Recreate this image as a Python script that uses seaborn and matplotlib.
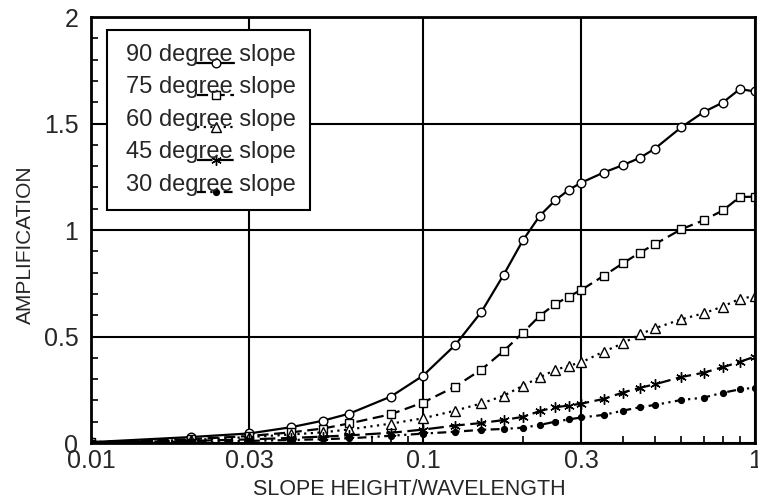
import numpy as np
import pandas as pd
import matplotlib
matplotlib.use("Agg")
import matplotlib.pyplot as plt
import seaborn as sns
from matplotlib.ticker import FixedLocator, NullFormatter, MultipleLocator

# Slope height / wavelength sample points
ratio = [0.01, 0.02, 0.03, 0.04, 0.05, 0.06, 0.08, 0.1, 0.125, 0.15, 0.175, 0.2,
         0.225, 0.25, 0.275, 0.3, 0.35, 0.4, 0.45, 0.5, 0.6, 0.7, 0.8, 0.9, 1.0]

# Amplification for each slope angle
amp_90 = [0.004, 0.028, 0.045, 0.074, 0.105, 0.138, 0.218, 0.316, 0.46, 0.616, 0.79, 0.952,
          1.068, 1.139, 1.189, 1.223, 1.27, 1.305, 1.339, 1.383, 1.483, 1.554, 1.599, 1.662, 1.651]
amp_75 = [0.004, 0.018, 0.033, 0.05, 0.068, 0.092, 0.135, 0.19, 0.265, 0.345, 0.432, 0.518,
          0.598, 0.652, 0.688, 0.719, 0.785, 0.844, 0.894, 0.934, 1.004, 1.046, 1.092, 1.155, 1.157]
amp_60 = [0.003, 0.014, 0.028, 0.04, 0.05, 0.064, 0.091, 0.116, 0.152, 0.186, 0.222, 0.269,
          0.309, 0.343, 0.363, 0.379, 0.429, 0.468, 0.511, 0.539, 0.581, 0.609, 0.641, 0.677, 0.69]
amp_45 = [0.003, 0.01, 0.017, 0.024, 0.03, 0.036, 0.048, 0.063, 0.082, 0.094, 0.108, 0.123,
          0.15, 0.168, 0.176, 0.185, 0.207, 0.237, 0.259, 0.276, 0.31, 0.33, 0.356, 0.381, 0.406]
amp_30 = [0.002, 0.006, 0.01, 0.014, 0.018, 0.022, 0.034, 0.044, 0.053, 0.062, 0.066, 0.072,
          0.085, 0.1, 0.111, 0.12, 0.132, 0.152, 0.168, 0.179, 0.202, 0.213, 0.236, 0.252, 0.26]

labels = ["90 degree slope", "75 degree slope", "60 degree slope",
          "45 degree slope", "30 degree slope"]

x_ticks = [0.01, 0.03, 0.1, 0.3, 1]
x_tick_labels = ["0.01", "0.03", "0.1", "0.3", "1"]
y_ticks = [0, 0.5, 1, 1.5, 2]
y_tick_labels = ["0", "0.5", "1", "1.5", "2"]

df = pd.DataFrame({"ratio": ratio, labels[0]: amp_90, labels[1]: amp_75,
                   labels[2]: amp_60, labels[3]: amp_45, labels[4]: amp_30})

sns.set_theme(style="white")
plt.rcParams["font.family"] = ["Liberation Sans", "DejaVu Sans"]

styles = {
    labels[0]: dict(linestyle="-", marker="o", markersize=6.2, markerfacecolor="white"),
    labels[1]: dict(linestyle=(0, (5, 2.5)), marker="s", markersize=5.8, markerfacecolor="white"),
    labels[2]: dict(linestyle=(0, (1, 2)), marker="^", markersize=6.8, markerfacecolor="white"),
    labels[3]: dict(linestyle=(0, (7, 2.5)), marker=(6, 2, 0), markersize=7.5),
    labels[4]: dict(linestyle=(0, (4, 2, 1, 2, 1, 2)), marker="o", markersize=4.2,
                    markerfacecolor="black"),
}

fig, ax = plt.subplots(figsize=(7.58, 5.04), dpi=100)
fig.subplots_adjust(left=0.120, right=0.996, bottom=0.121, top=0.966)

for name in labels:
    sns.lineplot(data=df, x="ratio", y=name, ax=ax, color="black", linewidth=1.6,
                 markeredgecolor="black", markeredgewidth=1.0, label=name, **styles[name])

ax.set_xscale("log")
ax.set_xlim(0.01, 1)
ax.set_ylim(0, 2)
ax.set_xticks(x_ticks)
ax.set_xticklabels(x_tick_labels)
ax.xaxis.set_minor_locator(FixedLocator([0.02, 0.04, 0.05, 0.06, 0.07, 0.08, 0.09,
                                         0.2, 0.4, 0.5, 0.6, 0.7, 0.8, 0.9]))
ax.xaxis.set_minor_formatter(NullFormatter())
ax.set_yticks(y_ticks)
ax.set_yticklabels(y_tick_labels)
ax.yaxis.set_minor_locator(MultipleLocator(0.1))

ax.grid(True, which="major", color="black", linewidth=1.5)
ax.tick_params(which="both", direction="in", color="black", labelsize=18,
               left=True, bottom=True, top=False, right=False)
ax.tick_params(axis="y", which="major", length=0, pad=9)
ax.tick_params(axis="x", which="major", length=0, pad=4)
ax.tick_params(which="minor", length=5, width=1.2)
for side in ax.spines.values():
    side.set_color("black")
    side.set_linewidth(2)

ax.set_xlabel("SLOPE HEIGHT/WAVELENGTH", fontsize=15.5)
ax.set_ylabel("AMPLIFICATION", fontsize=15)
ax.xaxis.set_label_coords(0.48, -0.085)
ax.yaxis.set_label_coords(-0.084, 0.465)

leg = ax.legend(loc="upper left", bbox_to_anchor=(0.024, 0.97), borderaxespad=0,
                fontsize=17, frameon=True, fancybox=False, edgecolor="black",
                framealpha=1, numpoints=1, handlelength=0.2, handletextpad=0.0,
                labelspacing=0.44, borderpad=0.6)
leg.get_frame().set_linewidth(1.5)
# Key samples sit underneath the middle of each label
for ln in leg.get_lines():
    y0 = np.asarray(ln.get_ydata())[0]
    ln.set_xdata([55, 68, 81])
    ln.set_ydata([y0 - 7] * 3)

fig.savefig("out.png", dpi=100)
